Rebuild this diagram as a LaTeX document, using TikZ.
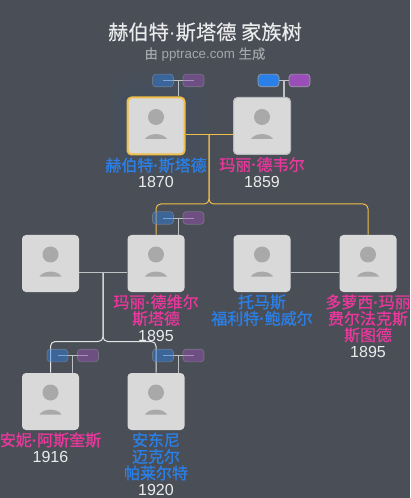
\documentclass[tikz,border=0pt]{standalone}
\usepackage{fontspec}
\usepackage{xcolor}
\setmainfont{Liberation Sans}
\newfontfamily\cjk[FakeBold=0.9]{Noto Sans CJK SC}
\newfontfamily\cjklight[FakeBold=0.2]{Noto Sans CJK SC}
\usetikzlibrary{positioning,calc}
\definecolor{bgdark}{HTML}{4A4F57}
\definecolor{cardgray}{HTML}{D9D9D9}
\definecolor{icongray}{HTML}{A9A9A9}
\definecolor{goldline}{HTML}{F0BE4A}
\definecolor{nameblue}{HTML}{2B80E8}
\definecolor{namepink}{HTML}{E8389B}
\definecolor{tagblue}{HTML}{2B80E8}
\definecolor{tagpurple}{HTML}{9A4FB8}
\newcommand{\bluename}[1]{{\cjk\color{nameblue}#1}}
\newcommand{\pinkname}[1]{{\cjk\color{namepink}#1}}
\newcommand{\yeartext}[1]{{\color{white!92!black}#1}}
\newcommand{\namedot}{{\normalfont\bfseries ·}}
\tikzset{
  plaincard/.style={rectangle, rounded corners=3pt, fill=cardgray, minimum size=42.75pt, inner sep=0pt},
  graycard/.style={plaincard, draw=white!60!bgdark, line width=.75pt},
  goldcard/.style={plaincard, draw=goldline, line width=1.5pt},
  nametext/.style={align=center, inner sep=0pt, font=\fontsize{12}{12.4}\selectfont},
  tagbox/.style={rectangle, rounded corners=2.5pt, minimum width=15.75pt, minimum height=9.5pt, inner sep=0pt, draw=white!45!bgdark, line width=.5pt},
  kinline/.style={white!65!bgdark, line width=.75pt},
  goldlink/.style={goldline, line width=.75pt, rounded corners=3.5pt},
  whitelink/.style={white!85!bgdark, line width=.75pt, rounded corners=3.5pt}
}
\begin{document}
\begin{tikzpicture}[x=0.75pt, y=-0.75pt]
    % 背景
    \fill[bgdark] (0,0) rectangle (410,498);
    \useasboundingbox (0,0) rectangle (410,498);
    % 选中人物的光晕
    \foreach \g in {0,4,...,24} {
        \fill[nameblue, opacity=.012, rounded corners=14pt] (105+\g,72+\g) rectangle (207-\g,180-\g);
    }
    % 标题
    \node[text=white!92!black, font=\cjklight\fontsize{15.2}{18}\selectfont] (title) at (205,32) {赫伯特{\normalfont ·}斯塔德 家族树};
    \node[text=white!50!bgdark, font=\fontsize{10}{12}\selectfont] (subtitle) at (205,54.5) {{\cjklight 由} pptrace.com {\cjklight 生成}};
    % 人物卡片
    \foreach \id/\x/\y/\sty in {herbert/156/126/goldcard, mary/262/126/graycard,
        spouse/50.5/263.5/plaincard, marie/156/263.5/plaincard, thomas/262/263.5/plaincard, dorothy/368/263.5/plaincard,
        anne/50.5/401.5/plaincard, anthony/156/401.5/plaincard} {
        \node[\sty] (\id) at (\x,\y) {};
        \fill[icongray] ($(\id)+(0,-9)$) circle (6pt);
        \fill[icongray, shift={(\id.center)}] (-11,13) .. controls (-7,6.5) and (7,6.5) .. (11,13) -- cycle;
    }
    % 姓名和年份
    \foreach \id/\txt in {herbert/{\bluename{赫伯特\namedot 斯塔德}\\\yeartext{1870}},
        mary/{\pinkname{玛丽\namedot 德韦尔}\\\yeartext{1859}},
        marie/{\pinkname{玛丽\namedot 德维尔}\\\pinkname{斯塔德}\\\yeartext{1895}},
        thomas/{\bluename{托马斯}\\\bluename{福利特\namedot 鲍威尔}},
        dorothy/{\pinkname{多萝西\namedot 玛丽}\\\pinkname{费尔法克斯}\\\pinkname{斯图德}\\\yeartext{1895}},
        anne/{\pinkname{安妮\namedot 阿斯奎斯}\\\yeartext{1916}},
        anthony/{\bluename{安东尼}\\\bluename{迈克尔}\\\bluename{帕莱尔特}\\\yeartext{1920}}} {
        \node[nametext, below=1.5pt of \id] (\id text) {\txt};
    }
    % 夫妻连线
    \draw[goldline, line width=.75pt] ($(herbert.east)+(0,9)$) -- ($(mary.west)+(0,9)$);
    \draw[kinline] ($(spouse.east)+(0,9)$) -- ($(marie.west)+(0,9)$);
    \draw[kinline] ($(thomas.east)+(0,9)$) -- ($(dorothy.west)+(0,9)$);
    % 子女连线
    \coordinate (top) at ($(herbert)!.5!(mary)+(0,9)$);
    \coordinate (topbar) at (209,204);
    \coordinate (mid) at (103,273);
    \coordinate (midbar) at (103,341.5);
    \draw[goldlink] (top) -- (topbar) -| (marie.north);
    \draw[goldlink] (top) -- (topbar) -| (dorothy.north);
    \draw[whitelink] (mid) -- (midbar) -| (anne.north);
    \draw[whitelink] (mid) -- (midbar) -| (anthony.north);
    % 标签
    \foreach \id/\xa/\xb/\y/\op/\lw in {herbert/163/193.5/80.5/.45/.5, mary/268.5/299.5/80.5/1/.9,
        marie/163/193.5/218/.45/.5, anne/57.5/88/355.5/.45/.5, anthony/163/193.5/355.5/.45/.5} {
        \coordinate (\id stem) at ({(\xa+\xb)/2},\y);
        \draw[kinline, line width=\lw pt] (\id stem) -- (\id stem |- \id.north);
        \draw[kinline, line width=\lw pt] (\xa,\y) -- (\xb,\y);
        \node[tagbox, fill=tagblue, fill opacity=\op, draw opacity=\op] (\id blue) at (\xa,\y) {};
        \node[tagbox, fill=tagpurple, fill opacity=\op, draw opacity=\op] (\id purple) at (\xb,\y) {};
    }
\end{tikzpicture}
\end{document}
